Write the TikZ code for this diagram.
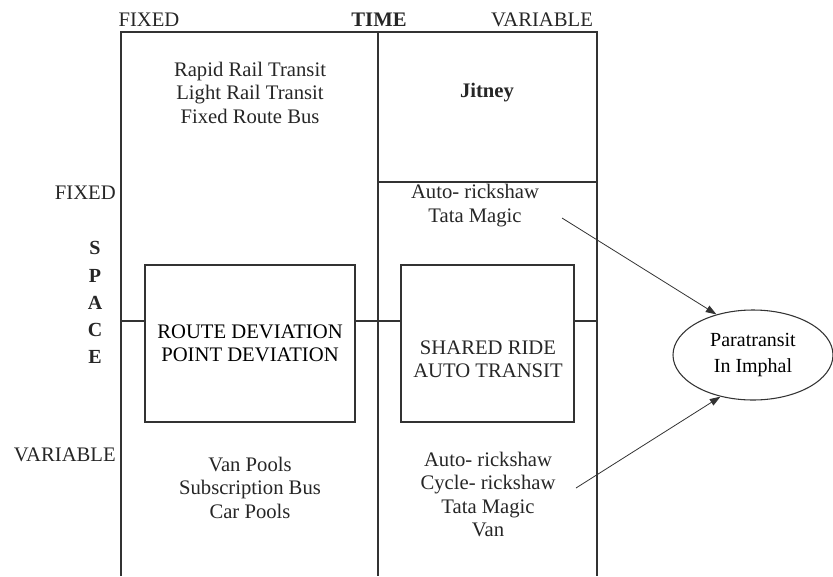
\documentclass[tikz,border=0pt]{standalone}
\usepackage{fontspec}
\setmainfont{Liberation Serif}
\usetikzlibrary{arrows.meta,positioning,shapes.geometric}

\begin{document}
\begin{tikzpicture}[
    x=0.75pt, y=-0.75pt,
    frame/.style={draw=black!80, line width=0.9pt},
    txt/.style={font=\fontsize{15.5}{17.6}\selectfont, align=center, inner sep=0pt, text=black!85},
    devbox/.style={rectangle, draw=black!80, line width=0.9pt, minimum height=117.75pt,
                   inner sep=0pt, font=\fontsize{15.5}{17.6}\selectfont, align=center},
    target/.style={ellipse, draw=black!80, line width=0.8pt, minimum width=120pt,
                   minimum height=67.5pt, inner sep=0pt, align=center,
                   font=\fontsize{15}{19.5}\selectfont},
    arr/.style={-{Triangle[length=8pt,width=5.5pt]}, draw=black!80, line width=0.6pt}
  ]
    \useasboundingbox (0,0) rectangle (833,576);

    % Frame
    \coordinate (tl) at (121,32);
    \coordinate (tm) at (378,32);
    \coordinate (tr) at (597,32);
    \coordinate (bl) at (121,576);
    \coordinate (bm) at (378,576);
    \coordinate (br) at (597,576);
    \coordinate (jm) at (378,182);
    \coordinate (jr) at (597,182);
    \coordinate (ml) at (121,321);
    \coordinate (mr) at (597,321);
    \draw[frame] (bl) -- (tl) -- (tr) -- (br);
    \draw[frame] (tm) -- (bm);
    \draw[frame] (jm) -- (jr);

    % Axis labels
    \node[txt] (tfix) at (149,20) {FIXED};
    \node[txt, font=\fontsize{15.5}{17.6}\selectfont\bfseries] (time) at (379,20) {TIME};
    \node[txt] (tvar) at (542,20) {VARIABLE};
    \node[txt, anchor=east] (sfix) at (116,193) {FIXED};
    \node[txt, font=\fontsize{15}{20.3}\selectfont\bfseries] (space) at (95,302.5) {S\\P\\A\\C\\E};
    \node[txt, anchor=east] (svar) at (116,455) {VARIABLE};

    % Fixed / fixed
    \node[txt] (rail) at (250,92.5) {Rapid Rail Transit\\Light Rail Transit\\Fixed Route Bus};
    % Variable time / fixed space
    \node[txt, font=\fontsize{15.5}{17.6}\selectfont\bfseries] (jit) at (487,93) {Jitney};
    \node[txt] (auto1) at (475,205.5) {Auto- rickshaw\\Tata Magic};

    % Deviation boxes
    \node[devbox, minimum width=157.5pt] (rd) at (250,343.5) {ROUTE DEVIATION\\POINT DEVIATION};
    \node[devbox, minimum width=129.75pt] (sr) at (487.5,343.5) {};
    \node[txt] (srt) at (488,359) {SHARED RIDE\\AUTO TRANSIT};
    \draw[frame] (ml) -- (ml -| rd.west);
    \draw[frame] (rd.east |- ml) -- (sr.west |- ml);
    \draw[frame] (sr.east |- mr) -- (mr);

    % Variable space
    \node[txt] (pool) at (250,487.5) {Van Pools\\Subscription Bus\\Car Pools};
    \node[txt] (auto2) at (488,494.5) {Auto- rickshaw\\Cycle- rickshaw\\Tata Magic\\Van};

    % Paratransit
    \node[target] (pt) at (753,355) {Paratransit\\In Imphal};
    \coordinate (a1) at (562,218);
    \coordinate (a2) at (576,488);
    \draw[arr] (a1) -- (pt.132);
    \draw[arr] (a2) -- (pt.232);
  \end{tikzpicture}
\end{document}
